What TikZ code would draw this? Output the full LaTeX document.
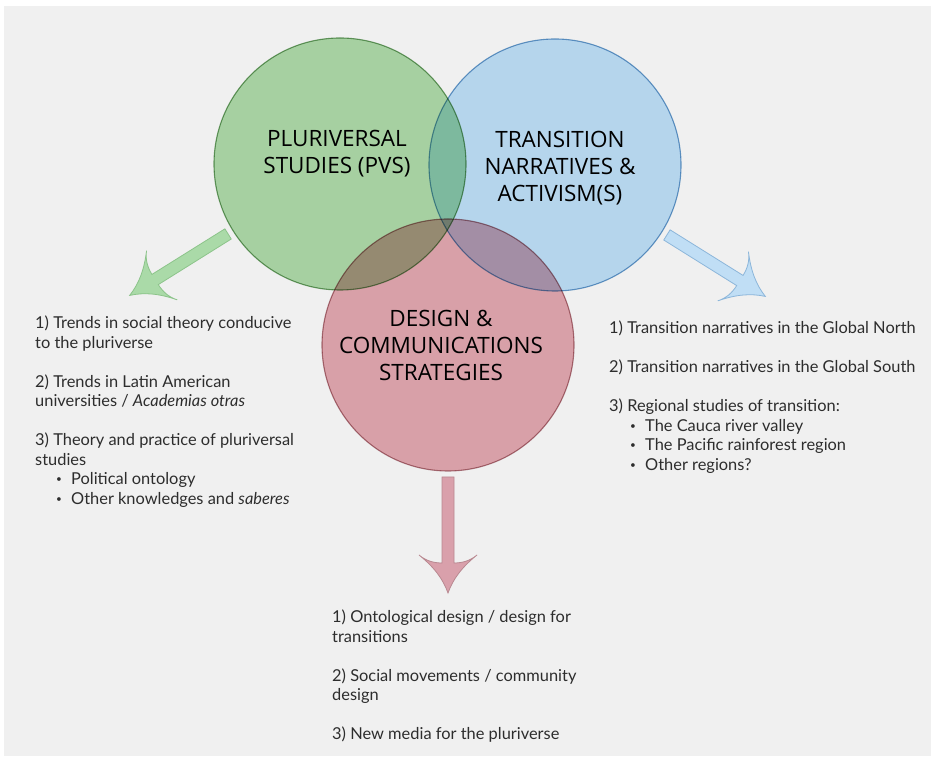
\documentclass[tikz,border=0pt]{standalone}
\usepackage{fontspec}
\setmainfont{Open Sans}
\newfontfamily\listfont{Lato}
\usepackage{xcolor}
\usepackage{tikz}

\definecolor{bgGray}{RGB}{240,240,240}
\definecolor{pvsFill}{RGB}{177,221,172}
\definecolor{pvsLine}{RGB}{116,164,110}
\definecolor{tnaFill}{RGB}{193,227,251}
\definecolor{tnaLine}{RGB}{110,160,204}
\definecolor{dcsFill}{RGB}{230,170,179}
\definecolor{dcsLine}{RGB}{180,126,134}
\definecolor{pvsArrow}{RGB}{170,218,168}
\definecolor{pvsArrowLine}{RGB}{140,196,138}
\definecolor{tnaArrow}{RGB}{192,222,245}
\definecolor{tnaArrowLine}{RGB}{140,182,218}
\definecolor{dcsArrow}{RGB}{217,160,171}
\definecolor{dcsArrowLine}{RGB}{184,136,144}
\definecolor{listGray}{RGB}{45,45,45}

\newcommand{\vennbullet}[1]{\hspace*{21pt}\makebox[15pt][l]{\raisebox{0.12em}{\fontsize{10}{10}\selectfont\textbullet}}#1}

\tikzset{
	venn/.style={circle, minimum size=252pt, inner sep=0pt, outer sep=0pt, line width=1.1pt, blend mode=multiply},
	heading/.style={align=center, text=black, font=\fontsize{22.5}{27}\selectfont},
	listtext/.style={anchor=north west, align=left, inner sep=0pt, text=listGray, font=\listfont\fontsize{16.4}{19.5}\selectfont},
	pics/fatarrow/.style={code={
		\path[pic actions] (0,6) -- (86,6) .. controls (86,14) and (84,22) .. (78,29) .. controls (90,14) and (102,5) .. (116,0) .. controls (102,-5) and (90,-14) .. (78,-29) .. controls (84,-22) and (86,-14) .. (86,-6) -- (0,-6) -- cycle;
	}}
}

\begin{document}
\begin{tikzpicture}[x=1pt, y=1pt]
			\useasboundingbox (0,0) rectangle (935,759);
			\fill[white] (0,0) rectangle (935,759);
			\fill[bgGray] (4,3) rectangle (931,753);
			\node[venn, fill=pvsFill, draw=pvsLine] (pvs) at (340,595) {};
			\node[venn, fill=tnaFill, draw=tnaLine] (tna) at (555,594) {};
			\node[venn, fill=dcsFill, draw=dcsLine] (dcs) at (448,414) {};
			\node[heading] (pvstitle) at (337,605) {PLURIVERSAL\\STUDIES (PVS)};
			\node[heading] (tnatitle) at (560,591) {TRANSITION\\NARRATIVES \&\\ACTIVISM(S)};
			\node[heading] (dcstitle) at (441,414) {DESIGN \&\\COMMUNICATIONS\\STRATEGIES};
			\pic[fill=pvsArrow, draw=pvsArrowLine, line width=0.8pt, rotate=212] at ([shift={(212:6)}]pvs.212) {fatarrow};
			\pic[fill=tnaArrow, draw=tnaArrowLine, line width=0.8pt, rotate=-32] at ([shift={(-32:6)}]tna.-32) {fatarrow};
			\pic[fill=dcsArrow, draw=dcsArrowLine, line width=0.8pt, rotate=-90] at ([shift={(-90:6)}]dcs.south) {fatarrow};
			\node[listtext] (pvslist) at (35,443) {1) Trends in social theory conducive\\to the pluriverse\\[19.5pt]2) Trends in Latin American\\universities / \textit{Academias otras}\\[19.5pt]3) Theory and practice of pluriversal\\studies\\\vennbullet{Political ontology}\\\vennbullet{Other knowledges and \textit{saberes}}};
			\node[listtext] (tnalist) at (609,438) {1) Transition narratives in the Global North\\[19.5pt]2) Transition narratives in the Global South\\[19.5pt]3) Regional studies of transition:\\\vennbullet{The Cauca river valley}\\\vennbullet{The Pacific rainforest region}\\\vennbullet{Other regions?}};
			\node[listtext] (dcslist) at (332,149) {1) Ontological design / design for\\transitions\\[19.5pt]2) Social movements / community\\design\\[19.5pt]3) New media for the pluriverse};
		\end{tikzpicture}
\end{document}
